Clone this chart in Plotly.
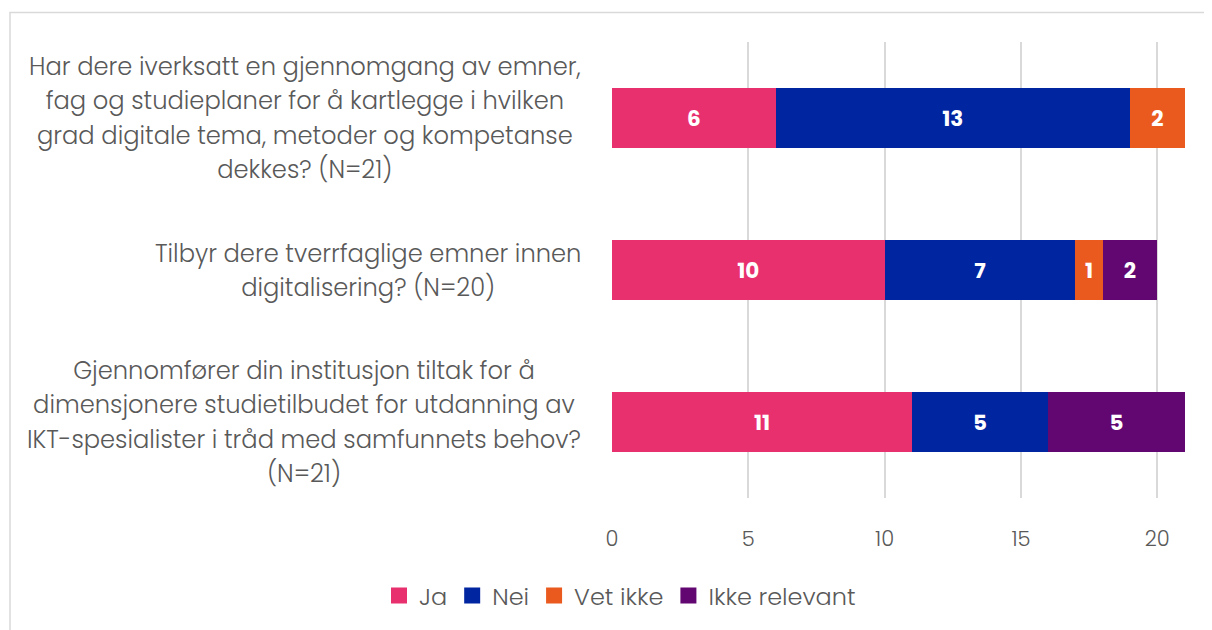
import plotly.graph_objects as go

categories = [
    "Har dere iverksatt en gjennomgang av emner,<br>fag og studieplaner for å kartlegge i hvilken<br>grad digitale tema, metoder og kompetanse<br>dekkes? (N=21)",
    "Tilbyr dere tverrfaglige emner innen<br>digitalisering? (N=20)",
    "Gjennomfører din institusjon tiltak for å<br>dimensjonere studietilbudet for utdanning av<br>IKT-spesialister i tråd med samfunnets behov?<br>(N=21)",
]
series_names = ["Ja", "Nei", "Vet ikke", "Ikke relevant"]
ja = [6, 10, 11]
nei = [13, 7, 5]
vet_ikke = [2, 1, 0]
ikke_relevant = [0, 2, 5]
x_ticks = [0, 5, 10, 15, 20]

colors = ["#E9306F", "#0025A0", "#EA5A1F", "#620772"]
values = [ja, nei, vet_ikke, ikke_relevant]

FONT = "Poppins, 'Open Sans', sans-serif"
W, H = 1212, 630
OFF = 8  # page body margin
ml, mr, mt, mb = 612 - OFF, 30, 42 - OFF, 140
pw = W - ml - mr
ph = H - mt - mb

fig = go.Figure()
for name, vals, col in zip(series_names, values, colors):
    fig.add_trace(go.Bar(
        y=list(range(len(categories))), x=vals, name=name, orientation="h",
        marker=dict(color=col, line=dict(width=0)),
        text=[str(v) if v else "" for v in vals],
        textposition="inside", insidetextanchor="middle",
        textfont=dict(color="white", size=21.5, family=FONT, weight="bold"),
        showlegend=False,
    ))
# legend entries with larger square swatches
for name, col in zip(series_names, colors):
    fig.add_trace(go.Scatter(
        x=[None], y=[None], mode="markers", name=name,
        marker=dict(symbol="square", size=18, color=col), showlegend=True,
    ))

for i, c in enumerate(categories):
    txt = "<br>".join('<span style="font-size:24.2px">%s</span>' % ln for ln in c.split("<br>"))
    fig.add_annotation(
        x=(583 - OFF - ml) / pw, xref="paper", y=i, yref="y",
        text=txt, showarrow=False, xanchor="right", yanchor="middle",
        align="center", font=dict(size=26.5, color="#595959", family=FONT, weight=300),
    )

# outer border
fig.add_shape(type="rect", xref="paper", yref="paper",
              x0=(10 - OFF - ml) / pw, x1=(1240 - ml) / pw,
              y0=1 - (660 - mt) / ph, y1=1 - (12.5 - OFF - mt) / ph,
              line=dict(color="#D9D9D9", width=1.5), fillcolor="rgba(0,0,0,0)", layer="below")

fig.update_layout(
    width=W, height=H, barmode="stack", bargap=0.6,
    margin=dict(l=ml, r=mr, t=mt, b=mb),
    paper_bgcolor="white", plot_bgcolor="white",
    font=dict(family=FONT, color="#595959"),
    uniformtext=dict(minsize=10, mode="show"),
    xaxis=dict(range=[0, 21.2], tickvals=x_ticks, showgrid=True, gridcolor="#D9D9D9",
               gridwidth=1.5, zeroline=False, showline=False, ticks="",
               tickfont=dict(size=21, color="#595959", weight=300), ticklabelstandoff=26),
    yaxis=dict(autorange="reversed", showticklabels=False, showgrid=False,
               zeroline=False, showline=False),
    legend=dict(orientation="h", xref="container", x=(620 - OFF) / W, xanchor="center",
                yref="container", y=(H - (596 - OFF)) / H, yanchor="middle",
                font=dict(size=24, color="#595959", weight=300), traceorder="normal",
                itemwidth=30),
    showlegend=True,
)

fig.write_html("out.html")
